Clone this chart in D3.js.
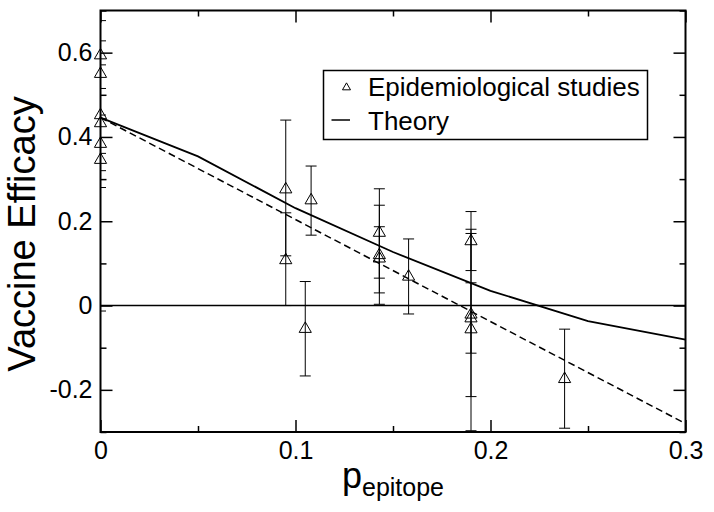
<!DOCTYPE html>
<html>
<head>
<meta charset="utf-8">
<script src="https://cdn.jsdelivr.net/npm/d3@7"></script>
<style>
  body { margin: 0; background: #fff; }
  svg { display: block; font-family: "Liberation Sans", Arial, Helvetica, sans-serif; }
</style>
</head>
<body>
<script>
//dims
const width = 714, height = 512;

// epidemiological studies: p_epitope, efficacy, error bar low/high
const studyP  = [0, 0, 0, 0, 0, 0, 0.095, 0.095, 0.108, 0.105, 0.143, 0.143, 0.143, 0.158, 0.19, 0.19, 0.19, 0.19, 0.238];
const studyVE = [0.596, 0.552, 0.454, 0.435, 0.386, 0.348, 0.278, 0.110, 0.252, -0.053, 0.175, 0.122, 0.114, 0.071, 0.155, -0.019, -0.028, -0.054, -0.172];
const studyLo = [0.515, 0.361, 0.280, 0.299, 0.320, -0.013, 0.118, 0.000, 0.167, -0.167, 0.065, 0.003, 0.030, -0.020, 0.083, -0.216, -0.113, -0.297, -0.291];
const studyHi = [0.676, 0.743, 0.628, 0.571, 0.452, 0.709, 0.440, 0.220, 0.331, 0.057, 0.277, 0.238, 0.187, 0.158, 0.223, 0.181, 0.054, 0.171, -0.056];

// theory curve
const theoryP  = [0, 0.05, 0.1, 0.15, 0.2, 0.25, 0.3];
const theoryVE = [0.446, 0.354, 0.231, 0.127, 0.035, -0.037, -0.081];

// dashed fit line
const fitP  = [0, 0.3];
const fitVE = [0.446, -0.28];

// ticks
const xMajor = [0, 0.1, 0.2, 0.3];
const xMinor = [0.05, 0.15, 0.25];
const yMajor = [-0.2, 0, 0.2, 0.4, 0.6];
const yMinor = [-0.3, -0.1, 0.1, 0.3, 0.5, 0.7];

const legendLabels = ['Epidemiological studies', 'Theory'];

const x = d3.scaleLinear().domain([0, 0.3]).range([100.5, 685.5]);
const y = d3.scaleLinear().domain([-0.3, 0.7]).range([432, 10.5]);

const svg = d3.select('body').append('svg')
  .attr('width', width)
  .attr('height', height);

svg.append('rect').attr('width', width).attr('height', height).attr('fill', '#fff');

// clip to the plot frame
svg.append('clipPath').attr('id', 'plotClip')
  .append('rect')
    .attr('x', x(0)).attr('y', y(0.7))
    .attr('width', x(0.3) - x(0)).attr('height', y(-0.3) - y(0.7));

const fmt = d => d === 0 ? '0' : d3.format('.1f')(d).replace('−', '-');

//axes, ticks inside
function noDomain(g) { g.select('.domain').remove(); }

svg.append('g').attr('transform', `translate(0,${y(-0.3)})`)
  .call(d3.axisBottom(x).tickValues(xMajor).tickSize(-12).tickPadding(9).tickFormat(fmt))
  .call(noDomain);
svg.append('g').attr('transform', `translate(0,${y(-0.3)})`)
  .call(d3.axisBottom(x).tickValues(xMinor).tickSize(-6).tickFormat(''))
  .call(noDomain);
svg.append('g').attr('transform', `translate(0,${y(0.7)})`)
  .call(d3.axisTop(x).tickValues(xMajor).tickSize(-12).tickFormat(''))
  .call(noDomain);
svg.append('g').attr('transform', `translate(0,${y(0.7)})`)
  .call(d3.axisTop(x).tickValues(xMinor).tickSize(-6).tickFormat(''))
  .call(noDomain);

svg.append('g').attr('transform', `translate(${x(0)},0)`)
  .call(d3.axisLeft(y).tickValues(yMajor).tickSize(-12).tickPadding(8).tickFormat(fmt))
  .call(noDomain);
svg.append('g').attr('transform', `translate(${x(0)},0)`)
  .call(d3.axisLeft(y).tickValues(yMinor).tickSize(-6).tickFormat(''))
  .call(noDomain);
svg.append('g').attr('transform', `translate(${x(0.3)},0)`)
  .call(d3.axisRight(y).tickValues(yMajor).tickSize(-12).tickFormat(''))
  .call(noDomain);
svg.append('g').attr('transform', `translate(${x(0.3)},0)`)
  .call(d3.axisRight(y).tickValues(yMinor).tickSize(-6).tickFormat(''))
  .call(noDomain);

svg.selectAll('.tick line').attr('stroke', '#000').attr('stroke-width', 1.5);
svg.selectAll('.tick text')
  .attr('fill', '#000')
  .style('font-size', '25px')
  .style('font-family', '"Liberation Sans", Arial, Helvetica, sans-serif');

const plot = svg.append('g').attr('clip-path', 'url(#plotClip)');

// zero line
plot.append('line')
  .attr('x1', x(0)).attr('x2', x(0.3))
  .attr('y1', y(0)).attr('y2', y(0))
  .attr('stroke', '#000').attr('stroke-width', 1.5);

// theory + fit
const line = d3.line().x(d => x(d[0])).y(d => y(d[1]));
plot.append('path')
  .attr('d', line(theoryP.map((p, i) => [p, theoryVE[i]])))
  .attr('fill', 'none').attr('stroke', '#000').attr('stroke-width', 1.8);
plot.append('path')
  .attr('d', line(fitP.map((p, i) => [p, fitVE[i]])))
  .attr('fill', 'none').attr('stroke', '#000').attr('stroke-width', 1.5)
  .attr('stroke-dasharray', '7,4');

// error bars
const studies = studyP.map((p, i) => ({ p, ve: studyVE[i], lo: studyLo[i], hi: studyHi[i] }));
const bars = plot.selectAll('.err').data(studies).enter().append('g').attr('class', 'err')
  .attr('stroke', '#000').attr('stroke-width', 1);
bars.append('line')
  .attr('x1', d => x(d.p)).attr('x2', d => x(d.p))
  .attr('y1', d => y(d.lo)).attr('y2', d => y(d.hi));
bars.append('line')
  .attr('x1', d => x(d.p) - 5.5).attr('x2', d => x(d.p) + 5.5)
  .attr('y1', d => y(d.lo)).attr('y2', d => y(d.lo));
bars.append('line')
  .attr('x1', d => x(d.p) - 5.5).attr('x2', d => x(d.p) + 5.5)
  .attr('y1', d => y(d.hi)).attr('y2', d => y(d.hi));

// triangles (not clipped)
const tri = d3.symbol().type(d3.symbolTriangle).size(64);
svg.selectAll('.study').data(studies).enter().append('path')
  .attr('class', 'study')
  .attr('d', tri)
  .attr('transform', d => `translate(${x(d.p)},${y(d.ve) + 1})`)
  .attr('fill', 'none').attr('stroke', '#000').attr('stroke-width', 1);

// frame
svg.append('rect')
  .attr('x', x(0)).attr('y', y(0.7))
  .attr('width', x(0.3) - x(0)).attr('height', y(-0.3) - y(0.7))
  .attr('fill', 'none').attr('stroke', '#000').attr('stroke-width', 2);

// legend
const legend = svg.append('g');
legend.append('rect')
  .attr('x', 323.5).attr('y', 70.5).attr('width', 324).attr('height', 69)
  .attr('fill', '#fff').attr('stroke', '#000').attr('stroke-width', 1.5);
legend.append('path')
  .attr('d', d3.symbol().type(d3.symbolTriangle).size(28)())
  .attr('transform', 'translate(346.5,87.5)')
  .attr('fill', 'none').attr('stroke', '#000').attr('stroke-width', 1);
legend.append('line')
  .attr('x1', 331.5).attr('x2', 350).attr('y1', 120).attr('y2', 120)
  .attr('stroke', '#000').attr('stroke-width', 1.5);
legend.selectAll('.legText').data(legendLabels).enter().append('text')
  .attr('class', 'legText')
  .attr('x', 368).attr('y', (d, i) => 96 + i * 34)
  .style('font-size', '26px')
  .text(d => d);

// axis titles
svg.append('text')
  .attr('transform', 'translate(35,234) rotate(-90)')
  .attr('text-anchor', 'middle')
  .style('font-size', '38px')
  .text('Vaccine Efficacy');

const xt = svg.append('text')
  .attr('x', x(0.15)).attr('y', 488)
  .attr('text-anchor', 'middle')
  .style('font-size', '36px');
xt.append('tspan').text('p');
xt.append('tspan').attr('dy', 8).style('font-size', '25px').text('epitope');
</script>
</body>
</html>
